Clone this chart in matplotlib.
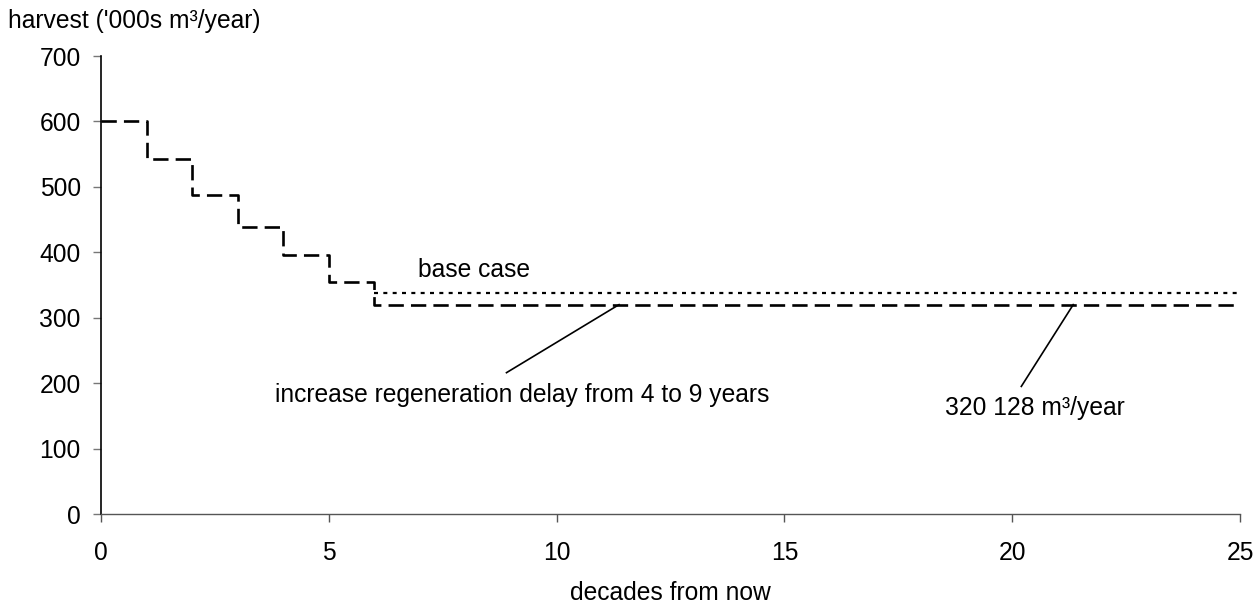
import numpy as np
import matplotlib
matplotlib.use("Agg")
import matplotlib.pyplot as plt

plt.rcParams['font.family'] = ['Liberation Sans', 'DejaVu Sans']

# harvest ('000s m3/year) per decade, step series
decades = [0, 1, 2, 3, 4, 5, 6, 25]
base_case = [601, 543, 487, 438, 396, 355, 338, 338]
regen_delay = [601, 543, 487, 438, 396, 355, 320.128, 320.128]

x_ticks = [0, 5, 10, 15, 20, 25]
y_ticks = [0, 100, 200, 300, 400, 500, 600, 700]

fs = 17.7

fig = plt.figure(figsize=(12.59, 6.08), dpi=100)
ax = fig.add_axes([101/1259, (608-514)/608, (1240-101)/1259, (514-56)/608])

# base case shares the early steps with the other run; only its own tail is dotted
ax.plot(decades[6:], base_case[6:], drawstyle='steps-post', color='black', lw=1.6,
        linestyle=(0, (1.8, 2.4)), clip_on=False)
ax.plot(decades, regen_delay, drawstyle='steps-post', color='black', lw=1.9,
        linestyle=(0, (5.8, 2.7)), clip_on=False)

ax.set_xlim(0, 25)
ax.set_ylim(0, 700)
ax.set_xticks(x_ticks)
ax.set_yticks(y_ticks)

for s in ['top', 'right']:
    ax.spines[s].set_visible(False)
ax.spines['left'].set_color('black')
ax.spines['left'].set_linewidth(1.2)
ax.spines['bottom'].set_color('#555555')
ax.spines['bottom'].set_linewidth(1.0)

ax.tick_params(axis='y', direction='out', length=5.5, width=1, color='#777777',
               pad=9, labelsize=fs)
ax.tick_params(axis='x', direction='out', length=5.5, width=1, color='#555555',
               pad=14, labelsize=fs)

# annotations
ax.text(6.95, 362, "base case", fontsize=fs, va='baseline', ha='left')
ax.text(3.82, 171, "increase regeneration delay from 4 to 9 years", fontsize=fs,
        va='baseline', ha='left')
ax.plot([8.9, 11.37], [216, 320], color='black', lw=1.2)
ax.text(18.52, 151, "320 128 m³/year", fontsize=fs, va='baseline', ha='left')
ax.plot([20.2, 21.34], [195, 320], color='black', lw=1.2)

fig.text(8/1259, 1 - 28/608, "harvest ('000s m³/year)", fontsize=fs,
         va='baseline', ha='left')
fig.text(670/1259, 1 - 600/608, "decades from now", fontsize=fs,
         va='baseline', ha='center')

fig.savefig("out.png", dpi=100)
